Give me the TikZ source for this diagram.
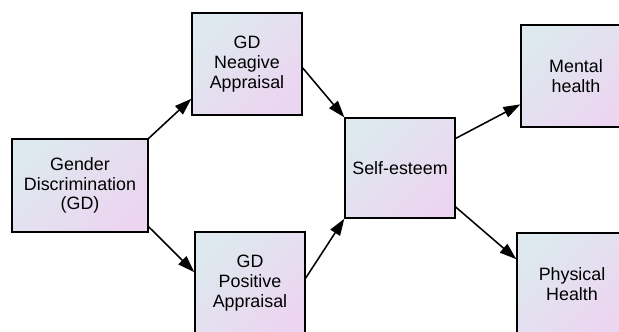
\documentclass[tikz,border=0pt]{standalone}
\usepackage{fontspec}
\setmainfont{Liberation Sans}
\usetikzlibrary{arrows.meta}
\definecolor{boxtl}{RGB}{221,233,238}
\definecolor{boxbr}{RGB}{236,213,241}

\begin{document}
\begin{tikzpicture}[x=0.025cm,y=-0.025cm,
        box/.style={draw=black,line width=0.9pt,top color=boxtl,bottom color=boxbr,shading angle=45,
            align=center,inner sep=0pt,minimum width=2.75cm,minimum height=2.55cm,
            font=\fontsize{12.7}{14}\selectfont},
        arr/.style={-{Triangle[length=12pt,width=8pt]},line width=1.1pt}]
        \clip (0,0) rectangle (619,331);

        \node[box,minimum width=3.4cm,minimum height=2.325cm] (gd) at (80,185.5) {Gender\\Discrimination\\(GD)};
        \node[box] (neg) at (247,64) {GD\\Neagive\\Appraisal};
        \node[box] (pos) at (250,283) {GD\\Positive\\Appraisal};
        \node[box,minimum height=2.5cm] (self) at (400,168) {Self-esteem};
        \node[box] (mental) at (576,76) {Mental\\health};
        \node[box] (physical) at (572,284) {Physical\\Health};

        \draw[arr] (gd.north east) -- (neg.212);
        \draw[arr] (gd.-31) -- (pos.169);
        \draw[arr] (neg.-4) -- (self.north west);
        \draw[arr] (pos.5) -- (self.south west);
        \draw[arr] (self.28) -- (mental.207);
        \draw[arr] (self.-35) -- (physical.156);
    \end{tikzpicture}
\end{document}
